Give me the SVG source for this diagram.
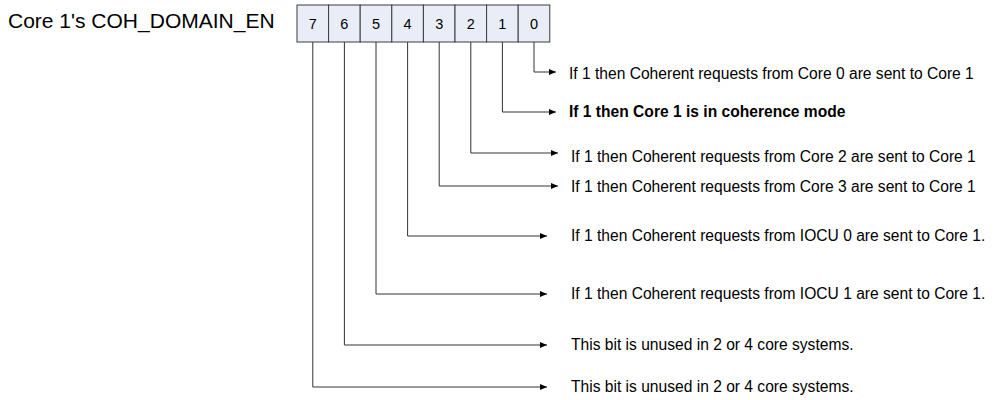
<svg xmlns="http://www.w3.org/2000/svg" width="995" height="400" viewBox="0 0 995 400">
<defs>
<style>
.t{font-family:"Liberation Sans",Arial,sans-serif;fill:#000}
.title{font-size:21px}
.d{font-size:15.6px}
.b{font-size:15.6px;font-weight:bold}
.n{font-size:14.5px;text-anchor:middle}
.cell{fill:#e8edf7;stroke:#3c3c3c;stroke-width:1}
.c{fill:none;stroke:#333;stroke-width:1}
</style>
<marker id="ah" viewBox="0 0 7 6" refX="7" refY="3" markerWidth="7" markerHeight="6" markerUnits="userSpaceOnUse" orient="auto">
<path d="M0,0 L7,3 L0,6 Z" fill="#000"/>
</marker>
</defs>
<rect width="995" height="400" fill="#fff"/>
<text class="t title" x="8" y="28">Core 1's COH_DOMAIN_EN</text>
<g id="register">
<rect class="cell" x="297" y="5" width="31.6" height="37"/>
<rect class="cell" x="328.6" y="5" width="31.6" height="37"/>
<rect class="cell" x="360.2" y="5" width="31.6" height="37"/>
<rect class="cell" x="391.8" y="5" width="31.6" height="37"/>
<rect class="cell" x="423.4" y="5" width="31.6" height="37"/>
<rect class="cell" x="455" y="5" width="31.6" height="37"/>
<rect class="cell" x="486.6" y="5" width="31.6" height="37"/>
<rect class="cell" x="518.2" y="5" width="31.6" height="37"/>
<text class="t n" x="312.8" y="29">7</text>
<text class="t n" x="344.4" y="29">6</text>
<text class="t n" x="376" y="29">5</text>
<text class="t n" x="407.6" y="29">4</text>
<text class="t n" x="439.2" y="29">3</text>
<text class="t n" x="470.8" y="29">2</text>
<text class="t n" x="502.4" y="29">1</text>
<text class="t n" x="534" y="29">0</text>
</g>
<g id="connectors">
<path class="c" marker-end="url(#ah)" d="M534,42 V72 H556"/>
<path class="c" marker-end="url(#ah)" d="M502.4,42 V112 H556"/>
<path class="c" marker-end="url(#ah)" d="M470.8,42 V153 H558"/>
<path class="c" marker-end="url(#ah)" d="M439.2,42 V186 H558"/>
<path class="c" marker-end="url(#ah)" d="M407.6,42 V236 H547"/>
<path class="c" marker-end="url(#ah)" d="M376,42 V294 H547"/>
<path class="c" marker-end="url(#ah)" d="M344.4,42 V345 H547"/>
<path class="c" marker-end="url(#ah)" d="M312.8,42 V387 H547"/>
</g>
<g id="bit0"><text class="t d" x="569" y="79">If 1 then Coherent requests from Core 0 are sent to Core 1</text></g>
<g id="bit1"><text class="t b" x="569" y="117">If 1 then Core 1 is in coherence mode</text></g>
<g id="bit2"><text class="t d" x="571" y="162">If 1 then Coherent requests from Core 2 are sent to Core 1</text></g>
<g id="bit3"><text class="t d" x="571" y="192">If 1 then Coherent requests from Core 3 are sent to Core 1</text></g>
<g id="bit4"><text class="t d" x="571" y="241">If 1 then Coherent requests from IOCU 0 are sent to Core 1.</text></g>
<g id="bit5"><text class="t d" x="571" y="299">If 1 then Coherent requests from IOCU 1 are sent to Core 1.</text></g>
<g id="bit6"><text class="t d" x="571" y="350">This bit is unused in 2 or 4 core systems.</text></g>
<g id="bit7"><text class="t d" x="571" y="392">This bit is unused in 2 or 4 core systems.</text></g>
</svg>
